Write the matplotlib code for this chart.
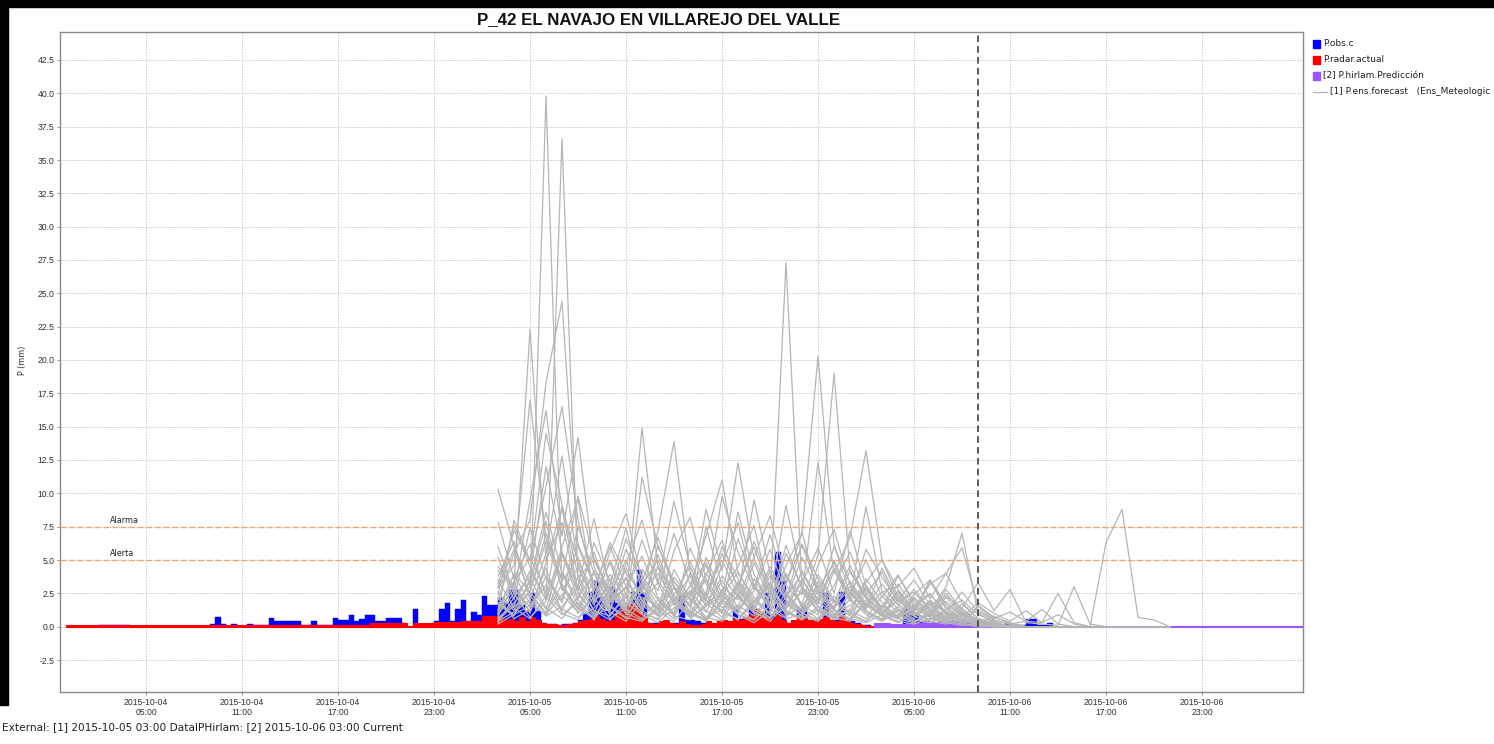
import matplotlib
matplotlib.use("Agg")
import matplotlib.pyplot as plt
from matplotlib.patches import Rectangle
from matplotlib.lines import Line2D
import numpy as np

# ---------------- text ----------------
title = "P_42 EL NAVAJO EN VILLAREJO DEL VALLE"
ylabel = "P (mm)"
footer = "External: [1] 2015-10-05 03:00 DataIPHirlam: [2] 2015-10-06 03:00 Current"
legend_labels = ["P.obs.c", "P.radar.actual", "[2] P.hirlam.Predicción",
                 "[1] P.ens.forecast   (Ens_Meteologic"]
threshold_names = ["Alarma", "Alerta"]
threshold_values = [7.5, 5.0]

# x axis: hours since 2015-10-04 00:00
tick_hours = [5, 11, 17, 23, 29, 35, 41, 47, 53, 59, 65, 71]
tick_labels = ["2015-10-04\n05:00", "2015-10-04\n11:00", "2015-10-04\n17:00",
               "2015-10-04\n23:00", "2015-10-05\n05:00", "2015-10-05\n11:00",
               "2015-10-05\n17:00", "2015-10-05\n23:00", "2015-10-06\n05:00",
               "2015-10-06\n11:00", "2015-10-06\n17:00", "2015-10-06\n23:00"]
y_ticks = [-2.5, 0.0, 2.5, 5.0, 7.5, 10.0, 12.5, 15.0, 17.5, 20.0, 22.5,
           25.0, 27.5, 30.0, 32.5, 35.0, 37.5, 40.0, 42.5]
current_hour = 57          # 2015-10-06 09:00

# observed precipitation, 20-min steps from 2015-10-04 00:00 (one row per hour)
obs = [0.0, 0.0, 0.0,  0.0, 0.0, 0.0,  0.15, 0.15, 0.15,  0.15, 0.15, 0.15,
       0.0, 0.0, 0.0,  0.0, 0.0, 0.0,  0.0, 0.0, 0.0,  0.0, 0.0, 0.0,
       0.0, 0.0, 0.0,  0.2, 0.7, 0.2,  0.0, 0.2, 0.0,  0.0, 0.2, 0.15,
       0.15, 0.15, 0.65,  0.4, 0.4, 0.4,  0.4, 0.4, 0.15,  0.15, 0.4, 0.15,
       0.15, 0.15, 0.65,  0.5, 0.5, 0.85,  0.4, 0.6, 0.85,  0.85, 0.45, 0.45,
       0.65, 0.65, 0.65,  0.25, 0.0, 1.3,  0.2, 0.2, 0.2,  0.45, 1.35, 1.8,
       0.4, 1.3, 2.0,  0.45, 1.1, 0.9,  2.3, 1.6, 1.6,  2.15, 1.8, 2.75,
       2.75, 1.6, 1.2,  2.5, 1.2, 0.3,  0.2, 0.2, 0.1,  0.2, 0.2, 0.3,
       0.5, 1.0, 2.6,  3.4, 2.2, 1.2,  3.0, 1.8, 1.0,  1.0, 2.6, 4.25,
       2.5, 0.3, 0.3,  0.2, 0.3, 0.3,  0.3, 2.3, 0.5,  0.5, 0.4, 0.3,
       0.3, 0.2, 0.3,  0.3, 0.3, 1.25,  0.6, 0.6, 1.6,  0.6, 0.6, 2.5,
       0.8, 5.6, 3.4,  0.3, 0.3, 1.3,  1.5, 0.5, 0.5,  0.5, 2.5, 0.5,
       0.5, 2.6, 0.4,  0.4, 0.3, 0.1,  0.1, 0.0, 0.0,  0.1, 0.0, 0.0,
       0.0, 1.3, 1.2,  0.9, 0.4, 0.4,  0.0, 0.0, 0.0,  0.0, 0.0, 0.0,
       0.0, 0.0, 0.0,  0.0, 0.0, 0.0,  0.0, 0.0, 0.3,  0.1, 0.1, 0.1,
       0.6, 0.6, 0.1,  0.1, 0.3, 0.0]

# radar precipitation, 20-min steps from 2015-10-04 00:00 (one row per hour)
radar = [0.12, 0.12, 0.12,  0.12, 0.12, 0.12,  0.15, 0.15, 0.15,  0.15, 0.15, 0.15,
         0.12, 0.12, 0.12,  0.12, 0.12, 0.12,  0.12, 0.12, 0.12,  0.12, 0.12, 0.12,
         0.12, 0.12, 0.12,  0.12, 0.12, 0.12,  0.12, 0.12, 0.12,  0.12, 0.12, 0.12,
         0.12, 0.12, 0.12,  0.12, 0.12, 0.12,  0.12, 0.12, 0.12,  0.12, 0.12, 0.12,
         0.12, 0.12, 0.12,  0.12, 0.12, 0.12,  0.12, 0.12, 0.12,  0.3, 0.3, 0.3,
         0.3, 0.3, 0.3,  0.3, 0.05, 0.3,  0.3, 0.3, 0.3,  0.35, 0.35, 0.35,
         0.35, 0.35, 0.45,  0.45, 0.45, 0.45,  0.8, 0.8, 0.8,  0.7, 0.5, 0.6,
         0.4, 0.7, 0.4,  0.7, 0.5, 0.3,  0.2, 0.2, 0.1,  0.1, 0.2, 0.3,
         0.4, 0.5, 0.6,  0.8, 0.6, 0.4,  0.5, 1.0, 1.5,  1.6, 1.7, 1.4,
         0.8, 0.3, 0.2,  0.4, 0.5, 0.3,  0.2, 0.4, 0.2,  0.1, 0.1, 0.2,
         0.4, 0.3, 0.5,  0.5, 0.4, 0.6,  0.5, 0.7, 0.9,  1.3, 1.0, 0.8,
         0.6, 0.9, 0.5,  0.3, 0.5, 0.7,  0.8, 0.5, 0.4,  0.6, 0.7, 0.5,
         0.4, 0.7, 0.5,  0.3, 0.2, 0.1,  0.05, 0.05, 0.05]

# HIRLAM prediction, hourly from 2015-10-06 03:00
hirlam_start = 51
hirlam = [0.25, 0.2, 0.3, 0.35, 0.45, 0.5, 0.45, 0.1, 0.05, 0.05,
          0.05, 0.05, 0.05, 0.05, 0.05, 0.05, 0.05, 0.05, 0.05, 0.05,
          0.05, 0.05, 0.05, 0.05, 0.05, 0.05, 0.05]

# ensemble forecast members, hourly from 2015-10-05 03:00
ens_start = 27
ens01 = [1.2, 2.8, 1.5, 39.8, 3.0, 1.0, 2.2, 0.6, 1.4, 3.2,
         0.8, 1.1, 2.6, 0.4, 1.8, 0.9, 0.5, 2.3, 1.0, 0.7,
         3.4, 1.2, 0.6, 0.3, 0.9, 0.4, 0.2, 0.6, 0.3, 0.1,
         0.2, 0.0, 0.0, 0.0, 0.0, 0.0, 0.0, 0.0, 0.0, 0.0,
         0.0, 0.0, 0.0]
ens02 = [0.5, 1.6, 4.2, 2.0, 36.6, 3.5, 1.2, 0.8, 2.5, 1.0,
         4.6, 2.1, 0.7, 1.5, 3.8, 2.2, 1.0, 0.6, 1.9, 0.8,
         2.7, 1.3, 0.5, 2.0, 0.8, 0.3, 1.1, 0.4, 0.2, 0.5,
         0.1, 0.0, 0.0, 0.0, 0.0, 0.0, 0.0, 0.0, 0.0, 0.0,
         0.0, 0.0, 0.0]
ens03 = [4.5, 3.0, 22.3, 5.0, 7.8, 2.4, 1.0, 3.6, 0.9, 2.2,
         1.5, 0.6, 4.0, 1.8, 0.7, 2.9, 1.4, 3.3, 0.8, 1.6,
         0.9, 4.2, 2.0, 1.1, 0.6, 1.5, 0.8, 0.3, 0.9, 0.4,
         0.6, 0.2, 0.0, 0.0, 0.0, 0.0, 0.0, 0.0, 0.0, 0.0,
         0.0, 0.0, 0.0]
ens04 = [2.0, 5.5, 8.0, 18.3, 24.4, 6.0, 3.1, 1.2, 4.4, 2.0,
         0.9, 3.0, 1.6, 5.2, 2.4, 1.0, 3.6, 1.7, 6.1, 2.8,
         1.1, 0.7, 2.5, 1.2, 0.5, 0.9, 0.3, 1.0, 0.4, 0.2,
         0.0, 0.0, 0.0, 0.0, 0.0, 0.0, 0.0, 0.0, 0.0, 0.0,
         0.0, 0.0, 0.0]
ens05 = [6.0, 2.5, 9.5, 16.2, 6.8, 14.2, 4.5, 2.0, 5.8, 3.3,
         1.2, 2.0, 0.8, 3.9, 6.5, 2.7, 1.3, 4.2, 2.0, 1.0,
         3.1, 1.8, 4.6, 2.2, 1.0, 0.6, 1.5, 0.7, 2.2, 0.9,
         0.4, 0.1, 0.0, 0.0, 0.0, 0.0, 0.0, 0.0, 0.0, 0.0,
         0.0, 0.0, 0.0]
ens06 = [3.2, 7.2, 5.0, 10.5, 16.5, 8.0, 2.9, 6.0, 3.0, 1.4,
         5.4, 2.3, 1.0, 0.6, 2.7, 4.5, 7.6, 2.2, 9.1, 3.5,
         1.7, 5.0, 2.1, 9.0, 2.6, 1.3, 0.8, 2.0, 1.0, 0.5,
         0.3, 0.0, 0.0, 0.0, 0.0, 0.0, 0.0, 0.0, 0.0, 0.0,
         0.0, 0.0, 0.0]
ens07 = [1.0, 4.0, 2.6, 7.0, 3.4, 5.2, 1.8, 3.9, 2.1, 14.9,
         4.4, 1.6, 3.0, 6.8, 11.0, 4.0, 2.2, 1.0, 3.2, 7.1,
         2.4, 1.2, 0.9, 3.6, 1.8, 0.7, 2.2, 1.1, 0.5, 1.4,
         0.3, 0.0, 0.0, 0.0, 0.0, 0.0, 0.0, 0.0, 0.0, 0.0,
         0.0, 0.0, 0.0]
ens08 = [7.8, 3.6, 6.2, 2.2, 9.0, 4.8, 2.7, 6.3, 4.0, 2.5,
         7.2, 13.9, 4.1, 2.0, 5.5, 3.0, 6.4, 2.9, 1.4, 4.2,
         2.0, 6.0, 3.3, 1.6, 0.8, 2.7, 1.2, 3.4, 1.5, 0.6,
         0.2, 0.0, 0.0, 0.0, 0.0, 0.0, 0.0, 0.0, 0.0, 0.0,
         0.0, 0.0, 0.0]
ens09 = [0.3, 2.2, 3.8, 12.0, 5.6, 3.0, 8.1, 2.8, 1.2, 11.2,
         6.0, 3.4, 2.0, 8.8, 4.2, 12.3, 5.1, 2.6, 1.5, 3.3,
         5.9, 2.5, 7.2, 3.0, 1.4, 3.8, 1.9, 0.8, 2.5, 1.0,
         0.4, 0.0, 0.0, 0.0, 0.0, 0.0, 0.0, 0.0, 0.0, 0.0,
         0.0, 0.0, 0.0]
ens10 = [2.6, 1.2, 3.4, 8.6, 4.0, 1.6, 0.7, 2.4, 5.0, 1.8,
         0.9, 4.3, 2.0, 1.1, 3.5, 1.4, 4.8, 2.1, 27.3, 3.0,
         1.5, 0.8, 2.6, 1.3, 4.4, 2.0, 0.9, 1.8, 0.6, 0.3,
         0.0, 0.0, 0.0, 0.0, 0.0, 0.0, 0.0, 0.0, 0.0, 0.0,
         0.0, 0.0, 0.0]
ens11 = [3.8, 6.4, 2.0, 5.5, 12.8, 4.6, 1.9, 3.1, 7.4, 2.6,
         1.3, 5.7, 8.2, 3.6, 1.7, 6.6, 3.2, 1.5, 4.6, 7.0,
         20.3, 6.2, 2.4, 5.0, 2.2, 3.9, 1.6, 0.9, 2.8, 1.2,
         0.5, 0.2, 0.0, 0.0, 0.0, 0.0, 0.0, 0.0, 0.0, 0.0,
         0.0, 0.0, 0.0]
ens12 = [5.2, 2.0, 7.4, 3.6, 1.8, 6.2, 3.3, 1.4, 4.7, 8.0,
         3.4, 1.8, 4.9, 2.3, 9.8, 5.6, 2.8, 6.9, 3.1, 1.7,
         5.4, 19.0, 4.1, 2.1, 1.2, 0.8, 2.4, 3.5, 1.3, 2.0,
         0.9, 0.4, 0.0, 0.0, 0.0, 0.0, 0.0, 0.0, 0.0, 0.0,
         0.0, 0.0, 0.0]
ens13 = [0.8, 3.3, 1.0, 4.8, 8.9, 2.7, 5.6, 1.9, 3.6, 1.2,
         6.1, 2.9, 1.1, 7.5, 3.0, 2.0, 5.2, 8.3, 3.6, 2.4,
         12.3, 4.0, 6.7, 13.2, 5.0, 2.8, 1.3, 3.2, 4.0, 1.8,
         0.6, 0.0, 0.0, 0.0, 0.0, 0.0, 0.0, 0.0, 0.0, 0.0,
         0.0, 0.0, 0.0]
ens14 = [2.4, 7.6, 4.5, 2.0, 6.0, 9.6, 2.2, 4.8, 1.6, 3.1,
         5.0, 2.0, 3.8, 1.5, 4.6, 7.8, 2.9, 1.6, 5.5, 3.0,
         1.8, 4.4, 2.0, 5.8, 3.7, 1.9, 2.6, 1.2, 3.0, 7.0,
         1.0, 0.3, 0.0, 0.0, 0.0, 0.0, 0.0, 0.0, 0.0, 0.0,
         0.0, 0.0, 0.0]
ens15 = [1.8, 0.9, 2.7, 6.4, 3.0, 1.3, 4.2, 2.5, 6.6, 3.8,
         2.0, 1.0, 5.9, 3.2, 1.4, 2.3, 9.5, 4.0, 2.1, 6.2,
         3.6, 1.9, 3.0, 1.4, 2.6, 3.0, 4.4, 2.1, 4.0, 5.9,
         1.6, 0.7, 0.3, 0.0, 0.0, 0.0, 0.0, 0.0, 0.0, 0.0,
         0.0, 0.0, 0.0]
ens16 = [0.6, 1.8, 3.0, 1.3, 5.4, 2.6, 0.9, 2.0, 3.7, 1.6,
         0.8, 2.4, 4.5, 2.0, 1.1, 3.4, 1.5, 0.7, 2.2, 4.0,
         1.9, 0.9, 1.6, 2.8, 1.2, 0.6, 1.4, 0.7, 0.4, 0.9,
         0.5, 0.2, 0.1, 0.0, 0.0, 0.0, 0.0, 0.0, 6.3, 8.8,
         0.7, 0.5, 0.0]
ens17 = [4.2, 2.9, 1.1, 3.8, 2.0, 7.5, 4.0, 1.8, 2.9, 5.3,
         2.2, 1.0, 3.1, 4.8, 2.0, 1.3, 2.7, 5.8, 2.5, 1.2,
         3.9, 2.0, 1.0, 2.4, 4.1, 1.7, 0.8, 1.9, 1.0, 2.6,
         1.1, 0.5, 0.2, 0.4, 0.3, 2.5, 0.3, 0.0, 0.0, 0.0,
         0.0, 0.0, 0.0]
ens18 = [3.0, 5.8, 2.3, 1.0, 4.1, 2.0, 6.3, 3.4, 1.5, 2.9,
         4.0, 1.8, 0.9, 2.6, 5.0, 2.3, 1.2, 3.8, 2.0, 5.2,
         2.6, 1.3, 3.4, 1.7, 0.9, 2.0, 3.5, 1.6, 2.3, 1.4,
         3.3, 1.2, 2.8, 0.3, 0.2, 0.1, 3.0, 0.2, 0.0, 0.0,
         0.0, 0.0, 0.0]
ens19 = [1.5, 3.4, 5.2, 2.6, 1.2, 3.7, 5.0, 2.4, 1.3, 4.3,
         2.7, 7.0, 3.2, 1.6, 2.3, 4.1, 1.9, 3.0, 1.4, 2.6,
         1.2, 3.1, 5.6, 2.5, 1.4, 3.2, 1.5, 2.4, 1.1, 0.7,
         1.8, 1.0, 0.4, 1.2, 0.3, 0.9, 0.2, 0.0, 0.0, 0.0,
         0.0, 0.0, 0.0]
ens20 = [10.3, 6.0, 3.1, 7.9, 2.7, 4.4, 2.0, 5.6, 8.5, 3.5,
         1.6, 3.7, 2.3, 4.6, 1.9, 3.0, 6.0, 2.4, 4.0, 1.6,
         2.8, 4.8, 1.9, 3.3, 5.0, 2.2, 1.0, 3.5, 1.7, 0.8,
         0.5, 0.3, 0.0, 0.0, 0.0, 0.0, 0.0, 0.0, 0.0, 0.0,
         0.0, 0.0, 0.0]
ens21 = [2.9, 4.6, 17.0, 6.6, 3.6, 9.8, 5.1, 2.6, 1.0, 3.4,
         6.7, 3.0, 1.5, 4.0, 2.2, 8.6, 3.9, 1.8, 3.3, 6.1,
         2.9, 1.4, 4.2, 2.3, 1.1, 2.0, 0.9, 1.5, 0.6, 1.0,
         0.4, 0.1, 0.0, 0.0, 0.0, 0.0, 0.0, 0.0, 0.0, 0.0,
         0.0, 0.0, 0.0]
ens22 = [1.0, 8.0, 4.9, 14.5, 9.2, 3.8, 1.6, 5.0, 2.4, 6.5,
         3.2, 9.4, 4.5, 2.0, 6.0, 3.6, 1.7, 4.5, 2.3, 1.0,
         4.6, 7.3, 3.1, 1.5, 3.2, 1.6, 2.8, 1.3, 0.7, 1.7,
         0.6, 0.3, 0.0, 0.0, 0.0, 0.0, 0.0, 0.0, 0.0, 0.0,
         0.0, 0.0, 0.0]
ens23 = [0.4, 1.1, 2.0, 0.8, 1.5, 3.0, 1.2, 0.5, 1.8, 0.9,
         0.3, 1.4, 2.2, 0.7, 0.4, 1.6, 0.8, 2.5, 1.1, 0.5,
         1.3, 0.6, 2.1, 0.9, 0.4, 1.2, 0.5, 0.3, 0.8, 0.4,
         0.2, 0.1, 0.0, 0.0, 0.0, 0.0, 0.0, 0.0, 0.0, 0.0,
         0.0, 0.0, 0.0]
ens24 = [2.2, 0.6, 1.3, 4.4, 1.0, 0.5, 2.8, 1.1, 0.4, 1.9,
         3.3, 0.8, 0.5, 1.7, 2.6, 0.9, 0.3, 1.2, 3.9, 1.4,
         0.6, 2.3, 1.0, 0.4, 1.6, 0.7, 2.1, 0.9, 0.3, 1.1,
         0.5, 0.2, 0.0, 0.0, 0.0, 0.0, 0.0, 0.0, 0.0, 0.0,
         0.0, 0.0, 0.0]
ens25 = [0.9, 2.5, 0.7, 1.9, 5.6, 2.0, 0.8, 1.5, 0.6, 2.7,
         1.2, 0.4, 1.9, 3.5, 1.0, 0.6, 2.0, 0.9, 1.3, 3.6,
         1.5, 0.7, 0.4, 1.8, 0.9, 2.4, 1.0, 0.5, 1.3, 0.6,
         0.3, 0.8, 0.2, 0.0, 0.0, 0.0, 0.0, 0.0, 0.0, 0.0,
         0.0, 0.0, 0.0]
ens26 = [1.7, 0.8, 3.6, 1.4, 0.6, 2.2, 4.0, 1.6, 0.7, 0.4,
         1.5, 2.9, 1.1, 0.5, 2.0, 1.0, 3.1, 1.3, 0.6, 0.9,
         2.2, 1.0, 0.5, 2.9, 1.2, 0.6, 1.6, 2.5, 0.9, 0.4,
         1.3, 0.5, 0.2, 0.0, 0.0, 0.0, 0.0, 0.0, 0.0, 0.0,
         0.0, 0.0, 0.0]
ens27 = [3.5, 1.4, 0.6, 2.3, 0.9, 1.8, 0.5, 3.0, 1.3, 0.6,
         2.0, 0.8, 2.7, 1.2, 0.5, 2.4, 1.1, 0.4, 1.7, 0.8,
         0.4, 1.6, 2.8, 1.1, 0.5, 1.3, 0.6, 1.7, 0.7, 0.3,
         0.6, 0.2, 0.0, 0.0, 0.0, 0.0, 0.0, 0.0, 0.0, 0.0,
         0.0, 0.0, 0.0]
ens28 = [0.2, 0.9, 1.6, 3.1, 1.3, 0.7, 1.4, 2.6, 1.0, 0.5,
         1.2, 3.4, 1.5, 0.6, 1.3, 0.5, 1.8, 3.3, 1.2, 0.6,
         1.5, 0.7, 1.2, 0.6, 2.3, 1.0, 0.4, 0.9, 1.9, 0.8,
         0.3, 0.1, 0.0, 0.0, 0.0, 0.0, 0.0, 0.0, 0.0, 0.0,
         0.0, 0.0, 0.0]
ens29 = [1.3, 3.9, 1.7, 0.9, 2.4, 1.1, 3.5, 0.9, 2.2, 1.0,
         0.6, 1.8, 0.7, 2.4, 1.0, 3.2, 1.3, 0.6, 2.6, 1.0,
         0.5, 1.9, 0.8, 0.4, 1.4, 2.6, 1.1, 0.5, 1.1, 0.5,
         1.5, 0.6, 1.1, 0.4, 1.3, 0.2, 0.0, 0.0, 0.0, 0.0,
         0.0, 0.0, 0.0]
ens30 = [0.7, 1.5, 2.6, 1.0, 3.2, 1.4, 0.6, 1.9, 3.0, 1.2,
         0.5, 2.1, 1.0, 0.4, 2.8, 1.2, 0.5, 1.6, 0.7, 2.9,
         1.2, 0.5, 1.3, 3.1, 1.4, 0.6, 0.3, 1.2, 0.5, 1.1,
         0.4, 0.2, 0.0, 0.0, 0.0, 0.0, 0.0, 0.0, 0.0, 0.0,
         0.0, 0.0, 0.0]
ensemble = [ens01, ens02, ens03, ens04, ens05, ens06, ens07, ens08, ens09, ens10,
            ens11, ens12, ens13, ens14, ens15, ens16, ens17, ens18, ens19, ens20,
            ens21, ens22, ens23, ens24, ens25, ens26, ens27, ens28, ens29, ens30]

# ---------------- figure ----------------
W, H = 1494, 744
fig = plt.figure(figsize=(W / 100, H / 100), dpi=100)
fig.patch.set_facecolor("white")
FONT = "Liberation Sans"
SMALL = "DejaVu Sans"


def fx(px):
    return px / W


def fy(py):
    return 1 - py / H


ax = fig.add_axes([fx(60), fy(692), fx(1303) - fx(60), fy(32) - fy(692)])
ax.set_facecolor("white")

BLUE = "#0000ff"
RED = "#ff0000"
PURPLE = "#9955ff"
GRAY = "#b6b6b6"
ORANGE = "#f5a36a"

step = 1.0 / 3.0
obs_x = np.arange(len(obs)) * step
radar_x = np.arange(len(radar)) * step
ax.bar(obs_x, obs, width=step, align="edge", color=BLUE, edgecolor=BLUE,
       linewidth=0.3, zorder=2)
ax.bar(radar_x, radar, width=step, align="edge", color=RED, edgecolor=RED,
       linewidth=0.8, zorder=3)
hir_x = hirlam_start + np.arange(len(hirlam))
ax.bar(hir_x, hirlam, width=1.0, align="center", color=PURPLE, edgecolor=PURPLE,
       linewidth=0.8, zorder=3)

ens_x = ens_start + np.arange(len(ens01))
for member in ensemble:
    ax.plot(ens_x, member, color=GRAY, lw=0.9, zorder=4)

for name, val in zip(threshold_names, threshold_values):
    ax.axhline(val, color=ORANGE, lw=1.0, dashes=(4, 2.2), zorder=5)
    ax.text(2.75, val + 0.12, name, fontsize=5.8, family=SMALL, color="#202020",
            va="bottom", ha="left", zorder=6)

ax.axvline(current_hour, color="#404040", lw=1.2, dashes=(4, 2.5), zorder=6)

ax.set_xlim(-0.375, 77.31)
ax.set_ylim(-4.9, 44.6)
ax.set_xticks(tick_hours)
ax.set_xticklabels(tick_labels, fontsize=6.2, family=FONT, color="#303030",
                   linespacing=1.25)
ax.set_yticks(y_ticks)
ax.set_yticklabels(["%.1f" % v for v in y_ticks], fontsize=6.2, family=FONT,
                   color="#303030")
ax.tick_params(axis="both", length=2, width=0.6, color="#808080", pad=2)
ax.grid(True, color="#c8c8c8", linestyle=(0, (1.5, 1.5)), lw=0.7, zorder=0)
ax.set_axisbelow(True)
for sp in ax.spines.values():
    sp.set_color("#8a8a8a")
    sp.set_linewidth(1.0)

fig.text(fx(22), fy(360), ylabel, rotation=90, fontsize=5.8, family=SMALL,
         ha="center", va="center", color="#303030")

fig.text(fx(659), fy(20), title, fontsize=12.2, fontweight="bold", family=FONT,
         ha="center", va="center", color="#111111")

fig.text(fx(2), fy(727), footer, fontsize=7.55, family=SMALL, ha="left",
         va="center", color="#202020")

# legend
rows = [44, 60, 76, 92]
for i, (lab, col) in enumerate(zip(legend_labels[:3], [BLUE, RED, PURPLE])):
    fig.patches.append(Rectangle((fx(1313), fy(rows[i] + 4)), fx(7), 8 / H,
                                 transform=fig.transFigure, color=col))
    fig.text(fx(1323), fy(rows[i]), lab, fontsize=6.5, family=SMALL, ha="left",
             va="center", color="#202020")
fig.lines.append(Line2D([fx(1313), fx(1327)], [fy(rows[3]), fy(rows[3])],
                        transform=fig.transFigure, color=GRAY, lw=1.0))
fig.text(fx(1330), fy(rows[3]), legend_labels[3], fontsize=6.5, family=SMALL,
         ha="left", va="center", color="#202020")

# dark frame of the screenshot
fig.patches.append(Rectangle((0, fy(7)), 1, 7 / H, transform=fig.transFigure,
                             color="black", zorder=10))
fig.patches.append(Rectangle((0, fy(705)), fx(8), 705 / H,
                             transform=fig.transFigure, color="black", zorder=10))

fig.savefig("out.png", dpi=100, facecolor="white")
